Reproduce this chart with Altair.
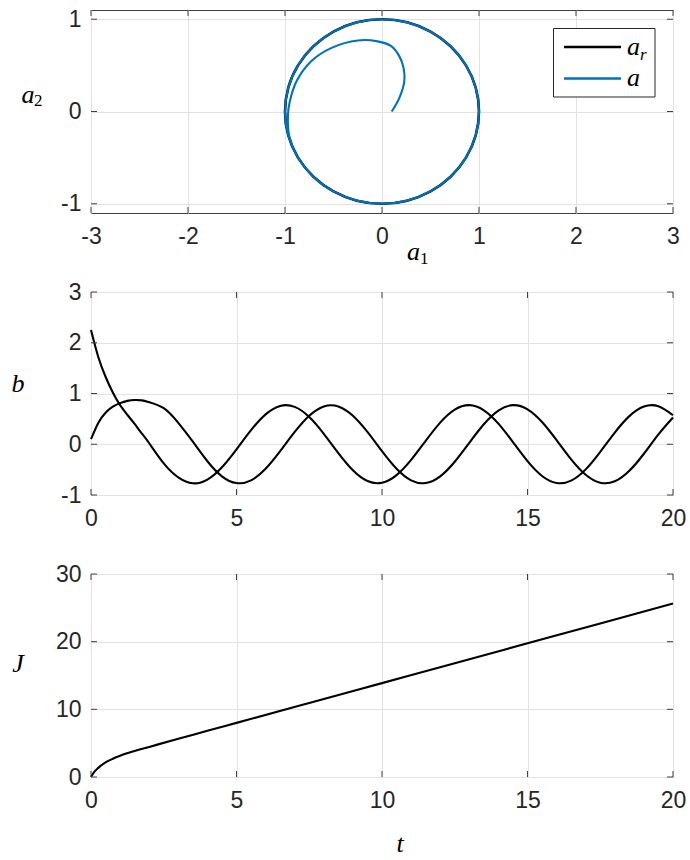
import altair as alt
import pandas as pd

# ---------------- data ----------------
# reference orbit a_r (unit circle), every 15 degrees
ar_a1 = [1.0, 0.966, 0.866, 0.707, 0.5, 0.259, 0.0, -0.259, -0.5, -0.707, -0.866, -0.966,
         -1.0, -0.966, -0.866, -0.707, -0.5, -0.259, 0.0, 0.259, 0.5, 0.707, 0.866, 0.966]
ar_a2 = [0.0, 0.259, 0.5, 0.707, 0.866, 0.966, 1.0, 0.966, 0.866, 0.707, 0.5, 0.259,
         0.0, -0.259, -0.5, -0.707, -0.866, -0.966, -1.0, -0.966, -0.866, -0.707, -0.5, -0.259]

# state trajectory a: spirals out from (0.1, 0) onto the orbit
a_a1 = [0.10, 0.178, 0.23, 0.223, 0.178, 0.092, -0.045, -0.25, -0.52, -0.73, -0.88, -0.95, -0.97,
        -0.955, -0.875, -0.707, -0.5, -0.259, 0.0, 0.259, 0.5, 0.707, 0.866, 0.966, 1.0,
        0.966, 0.866, 0.707, 0.5, 0.259, 0.0, -0.259, -0.5, -0.707, -0.866, -0.966, -1.0,
        -0.966, -0.866, -0.707, -0.5, -0.259, 0.0, 0.259, 0.5]
a_a2 = [0.0, 0.145, 0.326, 0.47, 0.60, 0.71, 0.76, 0.77, 0.69, 0.545, 0.33, 0.11, -0.05,
        -0.27, -0.48, -0.707, -0.866, -0.966, -1.0, -0.966, -0.866, -0.707, -0.5, -0.259, 0.0,
        0.259, 0.5, 0.707, 0.866, 0.966, 1.0, 0.966, 0.866, 0.707, 0.5, 0.259, 0.0,
        -0.259, -0.5, -0.707, -0.866, -0.966, -1.0, -0.966, -0.866]

# b components over time
t_b = [0, 0.25, 0.5, 0.75, 1, 1.25, 1.5, 1.75, 2, 2.5, 3, 3.5, 4, 4.5, 5, 5.5, 6, 6.5, 7,
       7.5, 8, 8.5, 9, 9.5, 10, 10.5, 11, 11.5, 12, 12.5, 13, 13.5, 14, 14.5, 15, 15.5, 16,
       16.5, 17, 17.5, 18, 18.5, 19, 19.5, 20]
b_1 = [2.25, 1.72, 1.33, 1.02, 0.77, 0.58, 0.40, 0.21, 0.02, -0.378, -0.653, -0.769,
       -0.696, -0.453, -0.099, 0.279, 0.589, 0.755, 0.736, 0.536, 0.206, -0.175, -0.513,
       -0.725, -0.760, -0.609, -0.309, 0.067, 0.427, 0.682, 0.770, 0.669, 0.406, 0.042,
       -0.333, -0.625, -0.764, -0.717, -0.495, -0.149, 0.231, 0.554, 0.743, 0.749, 0.572]
b_2 = [0.10, 0.42, 0.62, 0.74, 0.81, 0.855, 0.872, 0.865, 0.83, 0.71, 0.42, 0.05, -0.335,
       -0.632, -0.765, -0.712, -0.484, -0.137, 0.243, 0.563, 0.746, 0.746, 0.563, 0.243,
       -0.137, -0.484, -0.712, -0.765, -0.632, -0.344, 0.029, 0.394, 0.663, 0.770, 0.688,
       0.438, 0.080, -0.297, -0.601, -0.758, -0.730, -0.522, -0.187, 0.195, 0.528]

# accumulated cost J
t_J = [0, 0.1, 0.25, 0.5, 0.75, 1, 1.5, 2, 3, 4, 5, 7.5, 10, 12.5, 15, 17.5, 20]
J = [0, 0.7, 1.35, 2.15, 2.7, 3.15, 3.85, 4.45, 5.65, 6.82, 8.0, 10.94, 13.875, 16.81,
     19.75, 22.69, 25.625]

# tick values
xt_a = [-3, -2, -1, 0, 1, 2, 3]
yt_a = [-1, 0, 1]
xt_t = [0, 5, 10, 15, 20]
yt_b = [-1, 0, 1, 2, 3]
yt_J = [0, 10, 20, 30]

series_names = ["a_r", "a"]
series_colors = ["#000000", "#0072BD"]

# ---------------- style ----------------
W, H = 582, 203
TICK = 6
FRAME = "#404040"
TXT = "#262626"
SANS = "Liberation Sans"
SERIF = "Liberation Serif"


def axis(values, padding):
    return alt.Axis(values=values, grid=True, ticks=False, domain=False, title=None,
                    labelFont=SANS, labelFontSize=23, labelColor=TXT,
                    labelPadding=padding, labelFlush=False, labelOverlap=False,
                    gridColor="#e2e2e2", gridWidth=1,
                    labelExpr="'' + datum.value")


def inner_ticks(xvals, yvals, xs, ys, xa, ya):
    # short inward ticks on all four sides of the frame
    tx = pd.DataFrame({"v": xvals})
    ty = pd.DataFrame({"v": yvals})
    sty = dict(color=FRAME, strokeWidth=1)
    xe = alt.X("v:Q", scale=xs, axis=xa)
    ye = alt.Y("v:Q", scale=ys, axis=ya)
    return [
        alt.Chart(tx).mark_rule(**sty).encode(x=xe, y=alt.value(H), y2=alt.value(H - TICK)),
        alt.Chart(tx).mark_rule(**sty).encode(x=xe, y=alt.value(0), y2=alt.value(TICK)),
        alt.Chart(ty).mark_rule(**sty).encode(y=ye, x=alt.value(0), x2=alt.value(TICK)),
        alt.Chart(ty).mark_rule(**sty).encode(y=ye, x=alt.value(W), x2=alt.value(W - TICK)),
    ]


def txt(s, x, y, size, italic=True, align="left"):
    style = dict(font=SERIF, fontSize=size, color="#000000", align=align,
                 baseline="alphabetic")
    if italic:
        style["fontStyle"] = "italic"
    return alt.Chart(pd.DataFrame({"s": [s]})).mark_text(**style).encode(
        text="s:N", x=alt.value(x), y=alt.value(y))


# ---------------- panel 1: phase plane ----------------
xs_a = alt.Scale(domain=[-3, 3], nice=False, zero=False)
ys_a = alt.Scale(domain=[-1.1, 1.1], nice=False, zero=False)
xa_a = axis(xt_a, 12)
ya_a = axis(yt_a, 10)

ref_df = pd.DataFrame({"a1": ar_a1, "a2": ar_a2, "k": list(range(len(ar_a1)))})
traj_df = pd.DataFrame({"a1": a_a1, "a2": a_a2, "k": list(range(len(a_a1)))})

ref_line = alt.Chart(ref_df).mark_line(
    color=series_colors[0], strokeWidth=2.6, interpolate="cardinal-closed", tension=0
).encode(x=alt.X("a1:Q", scale=xs_a, axis=xa_a),
         y=alt.Y("a2:Q", scale=ys_a, axis=ya_a),
         order="k:Q")
traj_line = alt.Chart(traj_df).mark_line(
    color=series_colors[1], strokeWidth=2.1, interpolate="catmull-rom"
).encode(x=alt.X("a1:Q", scale=xs_a, axis=xa_a),
         y=alt.Y("a2:Q", scale=ys_a, axis=ya_a), order="k:Q")

legend_box = alt.Chart(pd.DataFrame({"s": [0]})).mark_rect(
    fill="white", stroke=TXT, strokeWidth=1
).encode(x=alt.value(462.5), x2=alt.value(564), y=alt.value(18.5), y2=alt.value(87))
legend_lines = [
    alt.Chart(pd.DataFrame({"s": [series_names[i]]})).mark_rule(
        color=series_colors[i], strokeWidth=2.6
    ).encode(x=alt.value(473), x2=alt.value(530), y=alt.value(yy))
    for i, yy in enumerate([37, 68.5])
]
legend_text = [
    txt("a", 536, 44.5, 26),
    txt("r", 549, 50, 17),
    txt("a", 536, 76, 26),
]

p1 = alt.layer(
    ref_line, traj_line, *inner_ticks(xt_a, yt_a, xs_a, ys_a, xa_a, ya_a),
    legend_box, *legend_lines, *legend_text,
    txt("a", -69.5, 92.5, 26), txt("2", -57, 95.5, 17, italic=False),
    txt("a", 316, 250, 26), txt("1", 329, 254, 17, italic=False),
).properties(width=W, height=H)

# ---------------- panel 2: b(t) ----------------
xs_t = alt.Scale(domain=[0, 20], nice=False, zero=False)
ys_b = alt.Scale(domain=[-1, 3], nice=False, zero=False)
xa_t = axis(xt_t, 12)
ya_b = axis(yt_b, 10)
b_df = pd.DataFrame({"t": t_b * 2, "b": b_1 + b_2,
                     "c": ["b1"] * len(t_b) + ["b2"] * len(t_b)})
b_line = alt.Chart(b_df).mark_line(
    color="#000000", strokeWidth=2.1, interpolate="natural"
).encode(x=alt.X("t:Q", scale=xs_t, axis=xa_t),
         y=alt.Y("b:Q", scale=ys_b, axis=ya_b),
         detail="c:N")
p2 = alt.layer(
    b_line, *inner_ticks(xt_t, yt_b, xs_t, ys_b, xa_t, ya_b),
    txt("b", -73, 100, 26, align="center"),
).properties(width=W, height=H)

# ---------------- panel 3: J(t) ----------------
ys_J = alt.Scale(domain=[0, 30], nice=False, zero=False)
ya_J = axis(yt_J, 10)
J_df = pd.DataFrame({"t": t_J, "J": J})
J_line = alt.Chart(J_df).mark_line(
    color="#000000", strokeWidth=2.1, interpolate="monotone"
).encode(x=alt.X("t:Q", scale=xs_t, axis=xa_t),
         y=alt.Y("J:Q", scale=ys_J, axis=ya_J))
p3 = alt.layer(
    J_line, *inner_ticks(xt_t, yt_J, xs_t, ys_J, xa_t, ya_J),
    txt("J", -73, 97.5, 26, align="center"),
    txt("t", 309, 278, 26, align="center"),
).properties(width=W, height=H)

chart = alt.vconcat(p1, p2, p3, spacing=79, bounds="flush").properties(
    padding={"left": 11, "top": 7, "right": 0, "bottom": 0}
).configure_view(stroke=FRAME, strokeWidth=1)

chart.save("out.html", embed_options={"renderer": "svg", "actions": False})
